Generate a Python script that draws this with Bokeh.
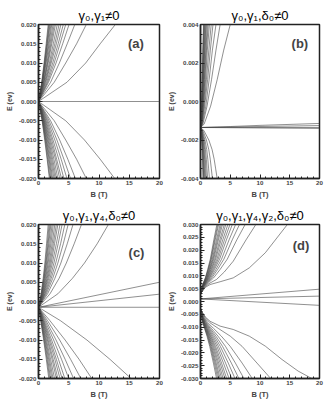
from bokeh.plotting import figure
from bokeh.layouts import gridplot
from bokeh.models import FixedTicker, NumeralTickFormatter, Label, Range1d
from bokeh.embed import file_html
from bokeh.resources import INLINE

# ---------------- data ----------------
x_ticks = [0, 5, 10, 15, 20]

# Panel (a): gamma0, gamma1 != 0
a_title = "γ₀,γ₁≠0"
a_yticks = [-0.020, -0.015, -0.010, -0.005, 0.000, 0.005, 0.010, 0.015, 0.020]
a_pos_E = [0.0, 0.005, 0.010, 0.015, 0.020]
a_pos_B = [
    [0, 4.7, 7.8, 10.2, 12.7], [0, 2.6, 4.5, 6.3, 7.9], [0, 2.0, 3.45, 4.75, 6.0],
    [0, 1.65, 2.9, 4.0, 5.05], [0, 1.5, 2.6, 3.55, 4.5], [0, 1.35, 2.35, 3.25, 4.1],
    [0, 1.2, 2.1, 2.95, 3.7], [0, 1.1, 1.95, 2.7, 3.4], [0, 1.0, 1.8, 2.45, 3.1],
    [0, 0.9, 1.6, 2.2, 2.8], [0, 0.85, 1.5, 2.05, 2.6], [0, 0.8, 1.4, 1.9, 2.4],
    [0, 0.7, 1.25, 1.75, 2.2], [0, 0.68, 1.18, 1.63, 2.05], [0, 0.63, 1.1, 1.5, 1.9],
    [0, 0.6, 1.03, 1.43, 1.8], [0, 0.56, 0.98, 1.35, 1.7], [0, 0.53, 0.92, 1.27, 1.6],
]
a_neg_E = [0.0, -0.005, -0.010, -0.015, -0.020]
a_neg_B = [
    [0, 4.5, 7.6, 10.2, 12.6], [0, 2.6, 4.5, 6.3, 7.9], [0, 2.0, 3.5, 4.85, 6.1],
    [0, 1.75, 3.05, 4.2, 5.3], [0, 1.55, 2.7, 3.75, 4.7], [0, 1.4, 2.4, 3.35, 4.2],
    [0, 1.25, 2.2, 3.0, 3.8], [0, 1.15, 2.0, 2.8, 3.5], [0, 1.05, 1.85, 2.55, 3.2],
    [0, 0.97, 1.7, 2.35, 2.95], [0, 0.9, 1.58, 2.18, 2.75], [0, 0.84, 1.46, 2.02, 2.55],
    [0, 0.78, 1.35, 1.87, 2.35], [0, 0.73, 1.26, 1.75, 2.2], [0, 0.68, 1.18, 1.63, 2.05],
    [0, 0.63, 1.1, 1.5, 1.9], [0, 0.6, 1.03, 1.43, 1.8],
]
a_flat_B = [[0, 20]]
a_flat_E = [[0.0, 0.0]]

# Panel (b): gamma0, gamma1, delta0 != 0
b_title = "γ₀,γ₁,δ₀≠0"
b_yticks = [-0.004, -0.002, 0.000, 0.002, 0.004]
b_pos_E = [-0.00135, -0.00118, -0.00024, 0.00113, 0.00267, 0.004]
b_pos_B = [
    [0, 0.6, 1.7, 2.8, 3.9, 5.0], [0, 0.4, 1.1, 1.85, 2.6, 3.3],
    [0, 0.3, 0.9, 1.45, 2.0, 2.6], [0, 0.25, 0.7, 1.2, 1.65, 2.1],
    [0, 0.22, 0.6, 1.0, 1.4, 1.8], [0, 0.18, 0.5, 0.85, 1.15, 1.5],
    [0, 0.15, 0.45, 0.73, 1.0, 1.3], [0, 0.14, 0.4, 0.65, 0.9, 1.15],
    [0, 0.12, 0.34, 0.56, 0.78, 1.0], [0, 0.11, 0.31, 0.5, 0.7, 0.9],
    [0, 0.1, 0.27, 0.45, 0.62, 0.8], [0, 0.08, 0.24, 0.4, 0.55, 0.7],
    [0, 0.07, 0.21, 0.35, 0.48, 0.62], [0, 0.07, 0.19, 0.31, 0.43, 0.55],
    [0, 0.06, 0.17, 0.28, 0.39, 0.5],
]
b_neg_E = [-0.00135, -0.0015, -0.002, -0.0025, -0.003, -0.0035, -0.004]
b_neg_B = [
    [0, 0.55, 1.4, 1.95, 2.3, 2.55, 2.8], [0, 0.39, 1.0, 1.39, 1.64, 1.82, 2.0],
    [0, 0.29, 0.75, 1.05, 1.23, 1.37, 1.5], [0, 0.24, 0.6, 0.84, 0.99, 1.09, 1.2],
    [0, 0.2, 0.5, 0.7, 0.82, 0.91, 1.0], [0, 0.17, 0.43, 0.59, 0.7, 0.78, 0.85],
    [0, 0.14, 0.36, 0.5, 0.59, 0.66, 0.72], [0, 0.12, 0.31, 0.43, 0.51, 0.56, 0.62],
    [0, 0.11, 0.27, 0.38, 0.44, 0.49, 0.54], [0, 0.09, 0.23, 0.33, 0.39, 0.43, 0.47],
    [0, 0.08, 0.21, 0.29, 0.34, 0.38, 0.42],
]
b_flat_B = [[0, 20], [0, 5, 10, 20], [0, 10, 20], [0, 20]]
b_flat_E = [[-0.00135, -0.00135], [-0.00135, -0.00130, -0.00124, -0.00114],
            [-0.00135, -0.00130, -0.00125], [-0.00135, -0.00140]]

# Panel (c): gamma0, gamma1, gamma4, delta0 != 0
c_title = "γ₀,γ₁,γ₄,δ₀≠0"
c_yticks = a_yticks
c_pos_E = [-0.0015, 0.002, 0.006, 0.010, 0.015, 0.020]
c_pos_B = [
    [0, 3.2, 5.6, 7.6, 9.7, 11.55], [0, 1.9, 3.4, 4.6, 5.9, 7.1],
    [0, 1.5, 2.7, 3.7, 4.75, 5.7], [0, 1.3, 2.35, 3.2, 4.1, 4.9],
    [0, 1.15, 2.1, 2.85, 3.65, 4.35], [0, 1.05, 1.9, 2.55, 3.25, 3.9],
    [0, 0.95, 1.7, 2.3, 2.95, 3.55], [0, 0.85, 1.55, 2.1, 2.65, 3.2],
    [0, 0.8, 1.42, 1.93, 2.45, 2.95], [0, 0.72, 1.3, 1.77, 2.25, 2.7],
    [0, 0.66, 1.18, 1.6, 2.05, 2.45], [0, 0.6, 1.08, 1.47, 1.87, 2.25],
    [0, 0.55, 0.98, 1.34, 1.7, 2.05], [0, 0.51, 0.91, 1.24, 1.58, 1.9],
    [0, 0.47, 0.84, 1.14, 1.46, 1.75], [0, 0.43, 0.77, 1.05, 1.33, 1.6],
]
c_neg_E = [-0.0015, -0.005, -0.010, -0.015, -0.020]
c_neg_B = [
    [0, 3.65, 8.0, 11.8, 15.3], [0, 1.9, 4.4, 6.7, 8.8], [0, 1.5, 3.5, 5.3, 7.0],
    [0, 1.25, 2.9, 4.4, 5.8], [0, 1.08, 2.5, 3.8, 5.0], [0, 0.94, 2.17, 3.3, 4.35],
    [0, 0.84, 1.95, 2.95, 3.9], [0, 0.77, 1.77, 2.7, 3.55], [0, 0.69, 1.6, 2.43, 3.2],
    [0, 0.64, 1.47, 2.24, 2.95], [0, 0.57, 1.32, 2.0, 2.65], [0, 0.52, 1.2, 1.82, 2.4],
    [0, 0.47, 1.1, 1.67, 2.2], [0, 0.43, 1.0, 1.52, 2.0], [0, 0.4, 0.92, 1.4, 1.85],
    [0, 0.37, 0.85, 1.29, 1.7],
]
c_flat_B = [[0, 20], [0, 20], [0, 20]]
c_flat_E = [[-0.0015, -0.0015], [-0.0015, 0.0050], [-0.0015, 0.0019]]

# Panel (d): gamma0, gamma1, gamma4, gamma2, delta0 != 0
d_title = "γ₀,γ₁,γ₄,γ₂,δ₀≠0"
d_yticks = [-0.030, -0.025, -0.020, -0.015, -0.010, -0.005, 0.000,
            0.005, 0.010, 0.015, 0.020, 0.025, 0.030]
d_pos_low_B = [0, 0.8, 1.6, 3.3, 5.5, 8.2, 10.9, 14.6]
d_pos_low_E = [0.003, 0.0055, 0.0066, 0.0077, 0.0092, 0.0131, 0.019, 0.030]
d_pos_2_B = [0, 0.8, 1.6, 2.7, 4.0, 5.5, 7.65, 9.3]
d_pos_2_E = [0.003, 0.0058, 0.0072, 0.0086, 0.0115, 0.0157, 0.0240, 0.030]
d_pos_E = [0.003, 0.0058, 0.0072, 0.0092, 0.0125, 0.0165, 0.024, 0.030]
d_pos_B = [
    [0, 0.7, 1.3, 2.2, 3.3, 4.5, 6.1, 7.5], [0, 0.61, 1.13, 1.92, 2.88, 3.93, 5.33, 6.55],
    [0, 0.55, 1.02, 1.73, 2.6, 3.54, 4.8, 5.9], [0, 0.5, 0.93, 1.57, 2.35, 3.21, 4.35, 5.35],
    [0, 0.46, 0.86, 1.45, 2.18, 2.97, 4.03, 4.95], [0, 0.43, 0.8, 1.35, 2.02, 2.76, 3.74, 4.6],
    [0, 0.4, 0.74, 1.25, 1.87, 2.55, 3.46, 4.25], [0, 0.37, 0.69, 1.17, 1.76, 2.4, 3.25, 4.0],
    [0, 0.35, 0.64, 1.09, 1.63, 2.22, 3.01, 3.7], [0, 0.33, 0.61, 1.03, 1.54, 2.1, 2.85, 3.5],
    [0, 0.31, 0.57, 0.97, 1.45, 1.98, 2.68, 3.3], [0, 0.28, 0.53, 0.89, 1.34, 1.83, 2.48, 3.05],
    [0, 0.27, 0.5, 0.85, 1.28, 1.74, 2.36, 2.9], [0, 0.26, 0.48, 0.81, 1.21, 1.65, 2.24, 2.75],
]
d_neg_low_B = [0, 0.8, 1.6, 3.3, 5.5, 8.2, 10.9, 13.7, 16.4, 18.7]
d_neg_low_E = [-0.0031, -0.0060, -0.0077, -0.0096, -0.0109, -0.0135, -0.0174, -0.0226, -0.0271, -0.030]
d_neg_2_B = [0, 0.8, 1.6, 3.0, 5.0, 7.0, 9.5, 11.8]
d_neg_2_E = [-0.0031, -0.0063, -0.0083, -0.0105, -0.0135, -0.0175, -0.0240, -0.030]
d_neg_E = [-0.0031, -0.0063, -0.0083, -0.0105, -0.0135, -0.0175, -0.024, -0.030]
d_neg_B = [
    [0, 0.65, 1.25, 2.2, 3.5, 5.0, 7.0, 8.7], [0, 0.55, 1.05, 1.85, 2.94, 4.2, 5.87, 7.3],
    [0, 0.48, 0.93, 1.63, 2.59, 3.71, 5.19, 6.45], [0, 0.43, 0.83, 1.47, 2.33, 3.33, 4.67, 5.8],
    [0, 0.39, 0.75, 1.33, 2.11, 3.02, 4.22, 5.25], [0, 0.36, 0.69, 1.21, 1.93, 2.76, 3.86, 4.8],
    [0, 0.33, 0.63, 1.11, 1.77, 2.53, 3.54, 4.4], [0, 0.31, 0.59, 1.04, 1.65, 2.36, 3.3, 4.1],
    [0, 0.28, 0.55, 0.96, 1.53, 2.19, 3.06, 3.8], [0, 0.27, 0.51, 0.9, 1.43, 2.04, 2.86, 3.55],
    [0, 0.25, 0.47, 0.83, 1.33, 1.9, 2.65, 3.3], [0, 0.23, 0.45, 0.78, 1.25, 1.78, 2.49, 3.1],
    [0, 0.22, 0.42, 0.73, 1.17, 1.67, 2.33, 2.9], [0, 0.2, 0.39, 0.68, 1.09, 1.55, 2.17, 2.7],
]
d_flat_B = [[0, 20], [0, 20], [0, 20]]
d_flat_E = [[0.001, 0.0048], [0.001, 0.0021], [0.001, -0.0015]]

LINE = "#454545"
FONT = "Liberation Sans"


def make_panel(title, ylim, yticks, yminor, groups, letter, lpos,
               w, h, bl, br, bt, bb):
    p = figure(width=w, height=h, x_range=Range1d(0, 20), y_range=Range1d(*ylim),
               output_backend="svg", toolbar_location=None,
               min_border_left=bl, min_border_right=br,
               min_border_top=bt, min_border_bottom=bb)
    p.grid.visible = False
    p.background_fill_color = "white"
    p.outline_line_color = "#222222"
    p.outline_line_width = 1.5
    p.outline_line_alpha = 1.0

    for xs, ys in groups:
        p.multi_line(xs=xs, ys=ys, line_color=LINE, line_width=0.6)

    p.title.text = title
    p.title.align = "center"
    p.title.text_font = FONT
    p.title.text_font_size = "13px"
    p.title.text_font_style = "normal"
    p.title.text_color = "black"
    p.title.standoff = 3
    p.title.offset = 0

    p.xaxis.ticker = FixedTicker(ticks=x_ticks,
                                 minor_ticks=[i for i in range(0, 21)])
    p.yaxis.ticker = FixedTicker(ticks=yticks, minor_ticks=yminor)
    p.yaxis.formatter = NumeralTickFormatter(format="0.000")
    for ax in (p.xaxis, p.yaxis):
        ax.axis_line_width = 1.5
        ax.axis_line_color = "#222222"
        ax.major_tick_in = 4
        ax.major_tick_out = 0
        ax.minor_tick_in = 2
        ax.minor_tick_out = 0
        ax.major_tick_line_color = "#222222"
        ax.minor_tick_line_color = "#222222"
        ax.major_label_text_font = FONT
        ax.major_label_text_font_size = "6.2px"
        ax.major_label_text_font_style = "bold"
        ax.major_label_standoff = 2
        ax.axis_label_text_font = FONT
        ax.axis_label_text_font_style = "bold"
    p.xaxis.axis_label = "B (T)"
    p.xaxis.axis_label_text_font_size = "7.5px"
    p.xaxis.axis_label_standoff = 2
    p.yaxis.axis_label = "E (ev)"
    p.yaxis.axis_label_text_font_size = "7px"
    p.yaxis.axis_label_standoff = 3

    p.add_layout(Label(x=lpos[0], y=lpos[1], text=letter, text_font=FONT,
                       text_font_size="13px", text_font_style="bold",
                       text_align="center", text_baseline="middle"))
    return p


def rows(Blist, Elev):
    return Blist, [Elev] * len(Blist)


def minor(lo, hi, step):
    n = int(round((hi - lo) / step))
    return [lo + i * step for i in range(n + 1)]


pa = make_panel(a_title, (-0.020, 0.020), a_yticks, minor(-0.020, 0.020, 0.001),
                [rows(a_pos_B, a_pos_E), rows(a_neg_B, a_neg_E), (a_flat_B, a_flat_E)],
                "(a)", (16.1, 0.0151), 164, 204, 38, 4, 24, 26)
pb = make_panel(b_title, (-0.004, 0.004), b_yticks, minor(-0.004, 0.004, 0.0005),
                [rows(b_pos_B, b_pos_E), rows(b_neg_B, b_neg_E), (b_flat_B, b_flat_E)],
                "(b)", (16.7, 0.0030), 163, 204, 35, 7, 24, 26)
pc = make_panel(c_title, (-0.020, 0.020), c_yticks, minor(-0.020, 0.020, 0.001),
                [rows(c_pos_B, c_pos_E), rows(c_neg_B, c_neg_E), (c_flat_B, c_flat_E)],
                "(c)", (16.2, 0.0128), 164, 198, 37, 5, 20, 24)
pd_ = make_panel(d_title, (-0.030, 0.030), d_yticks, minor(-0.030, 0.030, 0.001),
                 [rows(d_pos_B, d_pos_E), rows(d_neg_B, d_neg_E), (d_flat_B, d_flat_E),
                  ([d_pos_low_B, d_pos_2_B], [d_pos_low_E, d_pos_2_E]),
                  ([d_neg_low_B, d_neg_2_B], [d_neg_low_E, d_neg_2_E])],
                 "(d)", (16.9, 0.0218), 163, 198, 34, 8, 20, 24)

grid = gridplot([[pa, pb], [pc, pd_]], toolbar_location=None)
open("out.html", "w").write(file_html(grid, INLINE))
